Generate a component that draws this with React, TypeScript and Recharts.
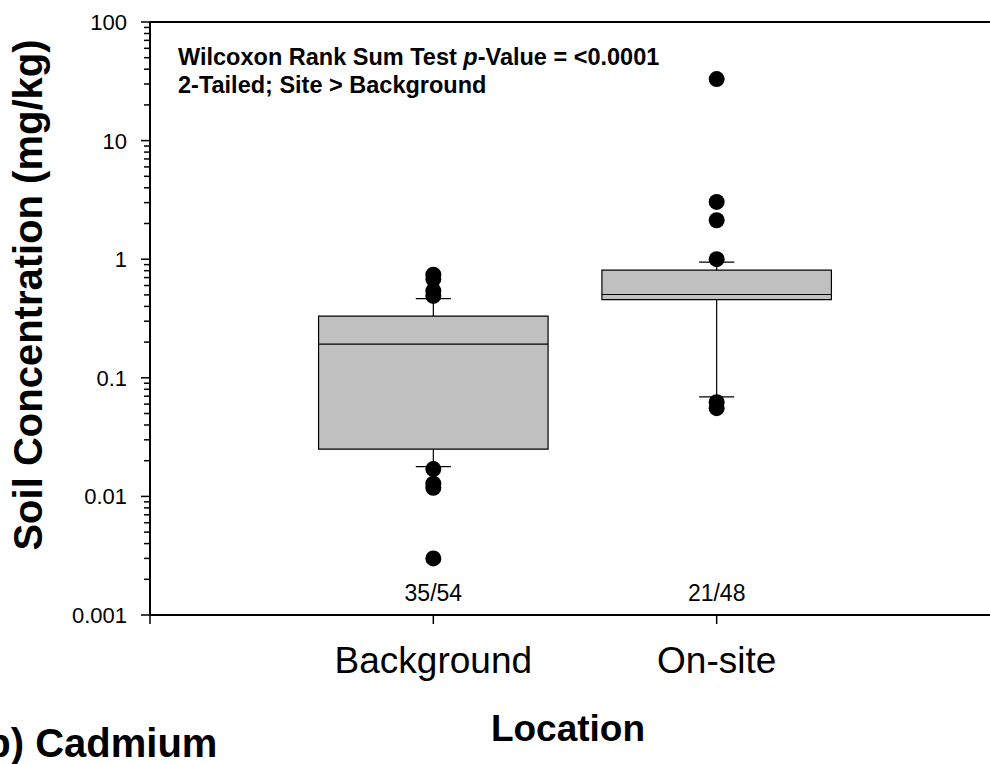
import { ComposedChart, XAxis, YAxis, Scatter, ReferenceArea, ReferenceLine } from "recharts";

// box plot summary (mg/kg)
const categories = ["Background", "On-site"];
const detectCounts = ["35/54", "21/48"];
const positions = [1, 2];
const q1 = [0.025, 0.457];
const medians = [0.192, 0.504];
const q3 = [0.331, 0.808];
const lowerWhisker = [0.0178, 0.0691];
const upperWhisker = [0.466, 0.943];
const backgroundOutliers = [0.74, 0.68, 0.54, 0.49, 0.017, 0.0128, 0.0118, 0.003];
const onsiteOutliers = [33, 3.04, 2.13, 1.0, 0.0623, 0.0555];

const majorTicks = [0.001, 0.01, 0.1, 1, 10, 100];
const minorSteps = [2, 3, 4, 5, 6, 7, 8, 9];
const yTicks = majorTicks
  .slice(0, -1)
  .flatMap((m) => [m, ...minorSteps.map((k) => k * m)])
  .concat([100]);

const BOX_HALF = 0.405;
const CAP_HALF = 0.062;

const bgPoints = backgroundOutliers.map((v) => ({ x: positions[0], y: v }));
const onPoints = onsiteOutliers.map((v) => ({ x: positions[1], y: v }));

const FONT = "'Liberation Sans', Arial, Helvetica, sans-serif";

const YTick = (props: any) => {
  const { x, y, payload } = props;
  const v = payload.value;
  const major = majorTicks.includes(v);
  return (
    <g>
      <line x1={x - (major ? 9 : 6)} x2={x} y1={y} y2={y} stroke="#000" strokeWidth={1.5} />
      {major && (
        <text x={x - 23} y={y} dy="0.36em" textAnchor="end" fontSize={22} fill="#000" fontFamily={FONT}>
          {String(v)}
        </text>
      )}
    </g>
  );
};

const XTick = (props: any) => {
  const { x, y, payload } = props;
  const i = positions.indexOf(payload.value);
  return (
    <g>
      <line x1={x} x2={x} y1={y} y2={y + 9} stroke="#000" strokeWidth={1.5} />
      {i >= 0 && (
        <>
          <text x={x} y={y - 14} textAnchor="middle" fontSize={23} fill="#000" fontFamily={FONT}>
            {detectCounts[i]}
          </text>
          <text x={x} y={y + 58} textAnchor="middle" fontSize={37} fill="#000" fontFamily={FONT}>
            {categories[i]}
          </text>
        </>
      )}
    </g>
  );
};

const Dot = (props: any) => <circle cx={props.cx} cy={props.cy} r={8} fill="#000" />;

export default function App() {
  return (
    <div
      style={{
        position: "absolute",
        left: 0,
        top: 0,
        width: 990,
        height: 764,
        overflow: "hidden",
        background: "#fff",
        fontFamily: FONT,
      }}
    >
      <ComposedChart width={1000} height={764} margin={{ top: 22, right: 0, bottom: 0, left: 0 }}>
        <XAxis
          type="number"
          dataKey="x"
          domain={[0, 3]}
          ticks={[0, 1, 2]}
          interval={0}
          height={149}
          tickSize={0}
          tickMargin={0}
          tickLine={false}
          tick={<XTick />}
          axisLine={{ stroke: "#000", strokeWidth: 2 }}
        />
        <YAxis
          type="number"
          dataKey="y"
          scale="log"
          domain={[0.001, 100]}
          allowDataOverflow
          ticks={yTicks}
          interval={0}
          width={150}
          tickSize={0}
          tickMargin={0}
          tickLine={false}
          tick={<YTick />}
          axisLine={{ stroke: "#000", strokeWidth: 2 }}
        />
        <ReferenceLine y={100} stroke="#000" strokeWidth={2} />
        {positions.map((p, i) => (
          <ReferenceArea
            key={"box" + i}
            x1={p - BOX_HALF}
            x2={p + BOX_HALF}
            y1={q1[i]}
            y2={q3[i]}
            fill="#c0c0c0"
            fillOpacity={1}
            stroke="#000"
            strokeWidth={1.2}
          />
        ))}
        {positions.map((p, i) => (
          <ReferenceLine
            key={"med" + i}
            segment={[
              { x: p - BOX_HALF, y: medians[i] },
              { x: p + BOX_HALF, y: medians[i] },
            ]}
            stroke="#000"
            strokeWidth={1.2}
          />
        ))}
        {positions.map((p, i) => (
          <ReferenceLine
            key={"wu" + i}
            segment={[
              { x: p, y: q3[i] },
              { x: p, y: upperWhisker[i] },
            ]}
            stroke="#000"
            strokeWidth={1.2}
          />
        ))}
        {positions.map((p, i) => (
          <ReferenceLine
            key={"wl" + i}
            segment={[
              { x: p, y: q1[i] },
              { x: p, y: lowerWhisker[i] },
            ]}
            stroke="#000"
            strokeWidth={1.2}
          />
        ))}
        {positions.map((p, i) => (
          <ReferenceLine
            key={"cu" + i}
            segment={[
              { x: p - CAP_HALF, y: upperWhisker[i] },
              { x: p + CAP_HALF, y: upperWhisker[i] },
            ]}
            stroke="#000"
            strokeWidth={1.2}
          />
        ))}
        {positions.map((p, i) => (
          <ReferenceLine
            key={"cl" + i}
            segment={[
              { x: p - CAP_HALF, y: lowerWhisker[i] },
              { x: p + CAP_HALF, y: lowerWhisker[i] },
            ]}
            stroke="#000"
            strokeWidth={1.2}
          />
        ))}
        <Scatter data={bgPoints} dataKey="y" shape={<Dot />} isAnimationActive={false} />
        <Scatter data={onPoints} dataKey="y" shape={<Dot />} isAnimationActive={false} />

        <text x={178} y={65} fontSize={23.5} fontWeight="bold" fill="#000" fontFamily={FONT}>
          Wilcoxon Rank Sum Test <tspan fontStyle="italic">p</tspan>-Value = &lt;0.0001
        </text>
        <text x={178} y={93} fontSize={23.5} fontWeight="bold" fill="#000" fontFamily={FONT}>
          2-Tailed; Site &gt; Background
        </text>
        <text
          x={42}
          y={295}
          transform="rotate(-90 42 295)"
          textAnchor="middle"
          fontSize={40}
          fontWeight="bold"
          fill="#000"
          fontFamily={FONT}
        >
          Soil Concentration (mg/kg)
        </text>
        <text x={568} y={741} textAnchor="middle" fontSize={37} fontWeight="bold" fill="#000" fontFamily={FONT}>
          Location
        </text>
        <text x={-27} y={757} fontSize={40} fontWeight="bold" fill="#000" fontFamily={FONT}>
          (b) Cadmium
        </text>
      </ComposedChart>
    </div>
  );
}
